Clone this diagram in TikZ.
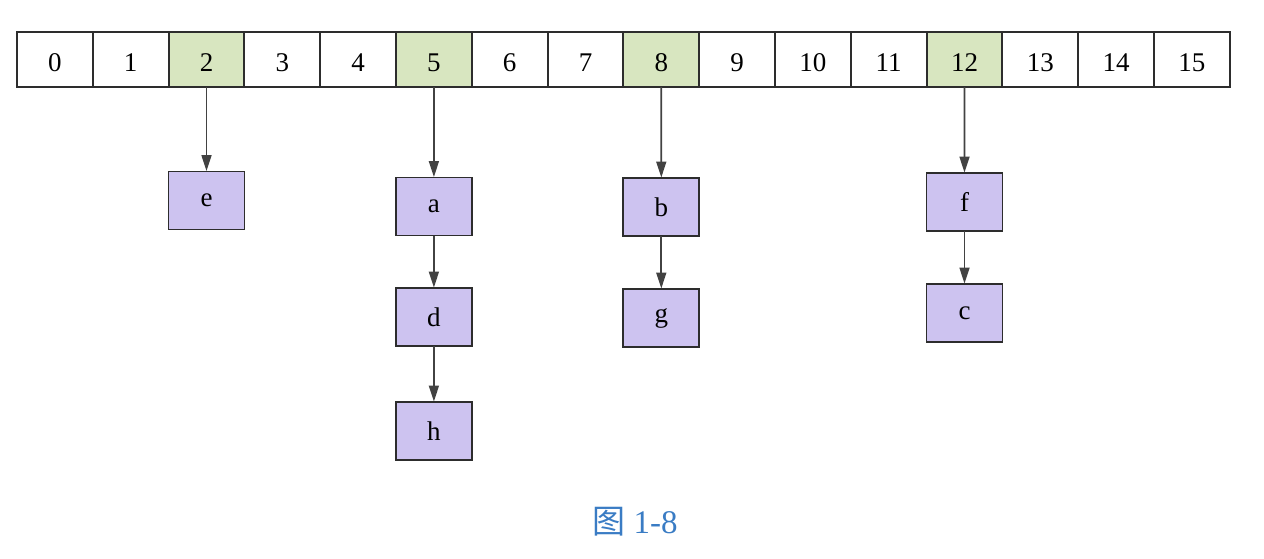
\documentclass[tikz,border=0pt]{standalone}
\usepackage{fontspec}
\setmainfont{Liberation Serif}
\newfontfamily\cjk{Noto Sans CJK SC}
\usetikzlibrary{arrows.meta}
\definecolor{slotgreen}{RGB}{216,230,192}
\definecolor{itempurple}{RGB}{205,195,240}
\definecolor{edgegray}{RGB}{45,45,45}
\definecolor{captionblue}{RGB}{58,124,196}
\tikzset{
  cell/.style={draw=edgegray, line width=1.9pt, fill=white, minimum width=75.8pt,
    minimum height=55pt, inner sep=0pt, outer sep=0pt,
    font=\fontsize{27}{30}\selectfont, text height=23pt, text depth=0pt},
  used/.style={cell, fill=slotgreen},
  item/.style={draw=edgegray, line width=1.9pt, fill=itempurple, minimum width=76pt,
    minimum height=58pt, inner sep=0pt, outer sep=0pt,
    font=\fontsize{27}{30}\selectfont},
  link/.style={draw=edgegray!90, line width=1.7pt,
    -{Triangle[length=16pt,width=10pt]}, shorten >=0.5pt}
}
\begin{document}
\begin{tikzpicture}[x=1pt,y=-1pt]
\useasboundingbox (0,0) rectangle (1264,558);
% hash table slots
\foreach \i in {0,...,15}{
  \pgfmathsetmacro{\cx}{17+75.8*(\i+0.5)}
  \ifnum\i=2 \def\st{used}\else\ifnum\i=5 \def\st{used}\else
  \ifnum\i=8 \def\st{used}\else\ifnum\i=12 \def\st{used}\else
  \def\st{cell}\fi\fi\fi\fi
  \node[\st] (s\i) at (\cx,59.5) {\i};
}
% chained entries
\node[item] (e) at (206.5,200.5) {e};
\node[item] (a) at (433.9,206.5) {a};
\node[item] (d) at (433.9,317) {d};
\node[item] (h) at (433.9,431) {h};
\node[item] (b) at (661.3,207) {b};
\node[item] (g) at (661.3,318) {g};
\node[item] (f) at (964.5,202) {f};
\node[item] (c) at (964.5,313) {c};
% links
\draw[link] (s2.south) -- (e.north);
\draw[link] (s5.south) -- (a.north);
\draw[link] (a) -- (d);
\draw[link] (d) -- (h);
\draw[link] (s8.south) -- (b.north);
\draw[link] (b) -- (g);
\draw[link] (s12.south) -- (f.north);
\draw[link] (f) -- (c);
% caption
\node[text=captionblue, font=\fontsize{33}{36}\selectfont] (cap) at (635,522) {{\cjk 图}~1-8};
\end{tikzpicture}
\end{document}
